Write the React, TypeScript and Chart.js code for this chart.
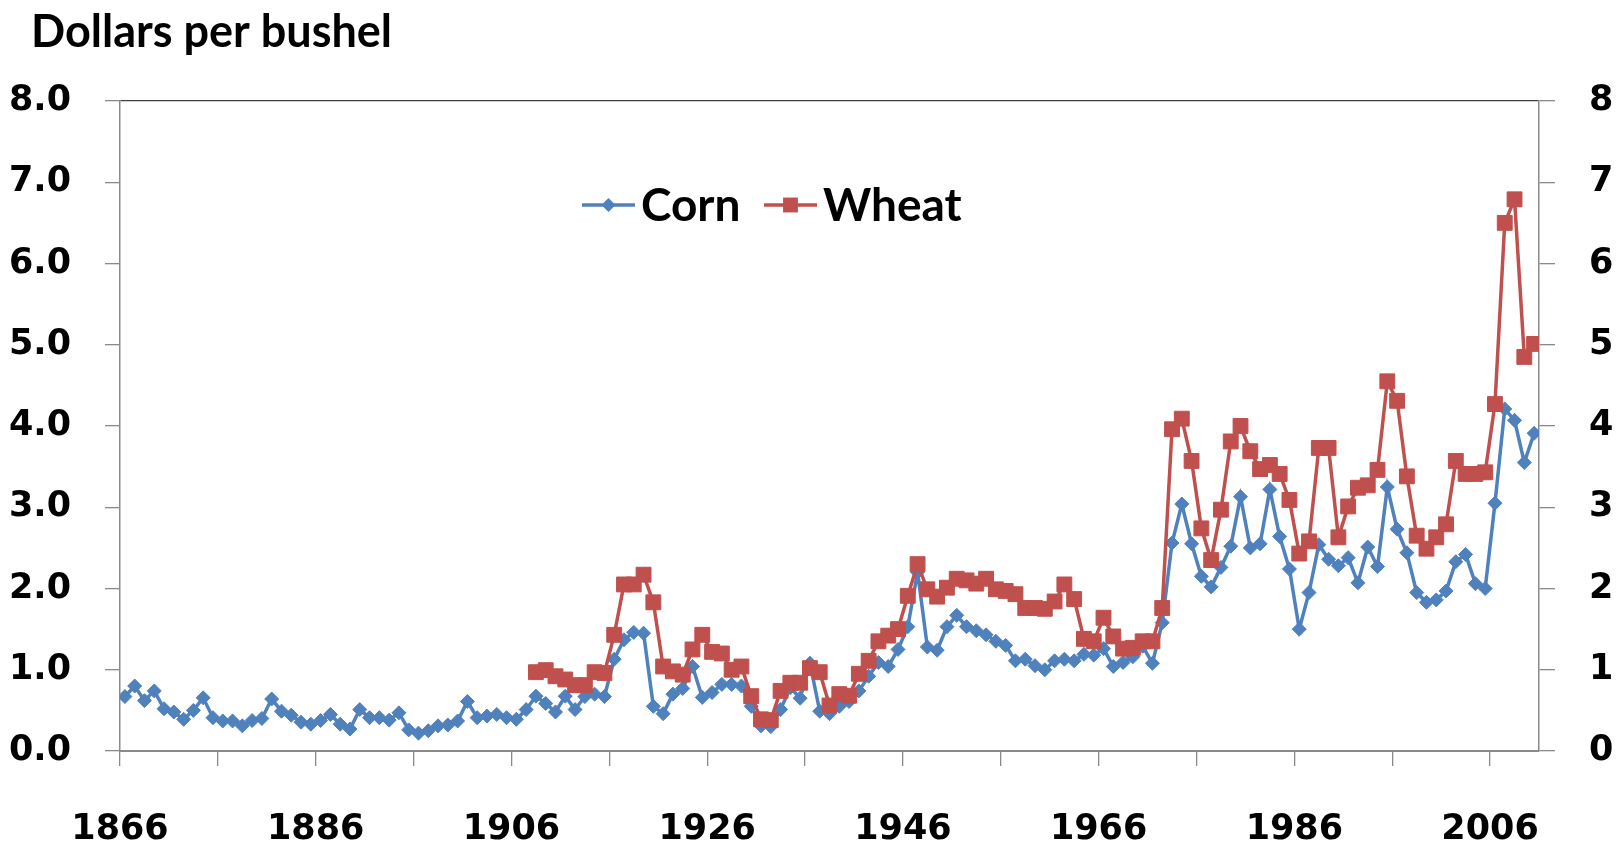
import React, { useEffect, useRef } from "react";
import { Chart, registerables } from "chart.js";

Chart.register(...registerables);

const TITLE = "Dollars per bushel";
const SERIES_NAMES = ["Corn", "Wheat"];
const CORN_START_YEAR = 1866;
const WHEAT_START_YEAR = 1908;
const X_MIN_YEAR = 1866;
const X_MAX_YEAR = 2010;
const X_TICK_YEARS = [1866, 1876, 1886, 1896, 1906, 1916, 1926, 1936, 1946, 1956, 1966, 1976, 1986, 1996, 2006];
const X_LABEL_YEARS = [1866, 1886, 1906, 1926, 1946, 1966, 1986, 2006];
const Y_TICKS = [0, 1, 2, 3, 4, 5, 6, 7, 8];

const cornPrices = [
  0.67, 0.8, 0.62, 0.74, 0.52, 0.48, 0.39, 0.5, 0.655, 0.41,
  0.37, 0.37, 0.31, 0.375, 0.4, 0.64, 0.49, 0.44, 0.355, 0.33,
  0.375, 0.45, 0.33, 0.27, 0.51, 0.41, 0.41, 0.38, 0.47, 0.26,
  0.22, 0.25, 0.31, 0.32, 0.37, 0.61, 0.41, 0.43, 0.45, 0.41,
  0.39, 0.51, 0.675, 0.585, 0.48, 0.675, 0.51, 0.67, 0.7, 0.67,
  1.13, 1.37, 1.46, 1.45, 0.55, 0.46, 0.7, 0.77, 1.04, 0.66,
  0.72, 0.82, 0.82, 0.8, 0.55, 0.31, 0.3, 0.51, 0.78, 0.65,
  1.08, 0.49, 0.46, 0.55, 0.61, 0.74, 0.92, 1.09, 1.04, 1.25,
  1.53, 2.2, 1.28, 1.24, 1.53, 1.67, 1.53, 1.48, 1.43, 1.35,
  1.3, 1.11, 1.13, 1.05, 1.0, 1.11, 1.13, 1.11, 1.19, 1.18,
  1.26, 1.04, 1.09, 1.16, 1.29, 1.08, 1.58, 2.56, 3.04, 2.55,
  2.15, 2.02, 2.26, 2.52, 3.13, 2.5, 2.55, 3.22, 2.64, 2.24,
  1.5, 1.95, 2.54, 2.36, 2.28, 2.38, 2.07, 2.51, 2.27, 3.25,
  2.73, 2.44, 1.95, 1.83, 1.86, 1.97, 2.33, 2.42, 2.06, 2.0,
  3.05, 4.21, 4.07, 3.55, 3.91,
];

const wheatPrices = [
  0.97, 0.995, 0.92, 0.88, 0.81, 0.81, 0.97, 0.96, 1.43, 2.05,
  2.05, 2.17, 1.83, 1.04, 0.98, 0.94, 1.25, 1.43, 1.22, 1.2,
  1.0, 1.04, 0.675, 0.39, 0.38, 0.74, 0.84, 0.84, 1.02, 0.97,
  0.56, 0.7, 0.68, 0.95, 1.11, 1.35, 1.42, 1.5, 1.91, 2.3,
  1.99, 1.9, 2.01, 2.12, 2.1, 2.06, 2.12, 1.99, 1.97, 1.93,
  1.76, 1.76, 1.75, 1.84, 2.05, 1.87, 1.38, 1.35, 1.64, 1.41,
  1.26, 1.27, 1.35, 1.35, 1.76, 3.96, 4.09, 3.57, 2.74, 2.35,
  2.97, 3.81, 4.0, 3.69, 3.47, 3.52, 3.41, 3.09, 2.43, 2.58,
  3.73, 3.73, 2.63, 3.01, 3.24, 3.27, 3.46, 4.55, 4.31, 3.38,
  2.65, 2.49, 2.63, 2.79, 3.57, 3.41, 3.41, 3.43, 4.27, 6.5,
  6.79, 4.85, 5.01,
];

const CORN_COLOR = "#4F81BD";
const WHEAT_COLOR = "#C0504D";
const AXIS_COLOR = "#8A8A8A";
const TOP_LINE_COLOR = "#404040";
const FONT = '"Lato", "Open Sans", sans-serif';
const TICK_FONT = '"DejaVu Sans", "Lato", sans-serif';
const CORN_RADIUS = 7;
const WHEAT_RADIUS = 10.5;
const LINE_WIDTH = 3.5;

const toPoints = (start: number, values: number[]) =>
  values.map((v, i) => ({ x: start + i, y: v }));

const overlayPlugin = {
  id: "overlay",
  afterDraw(chart: any) {
    const ctx = chart.ctx as CanvasRenderingContext2D;
    ctx.save();
    ctx.fillStyle = "#000";
    ctx.font = `bold 45px ${FONT}`;
    ctx.textBaseline = "alphabetic";
    ctx.textAlign = "left";
    ctx.fillText(TITLE, 31, 47);

    const legendY = 205;
    const items = [
      { name: SERIES_NAMES[0], color: CORN_COLOR, x0: 582, style: "rectRot", r: CORN_RADIUS },
      { name: SERIES_NAMES[1], color: WHEAT_COLOR, x0: 764, style: "rect", r: WHEAT_RADIUS },
    ];
    for (const it of items) {
      ctx.strokeStyle = it.color;
      ctx.lineWidth = LINE_WIDTH;
      ctx.beginPath();
      ctx.moveTo(it.x0, legendY);
      ctx.lineTo(it.x0 + 53, legendY);
      ctx.stroke();
      ctx.fillStyle = it.color;
      const cx = it.x0 + 26.5;
      ctx.beginPath();
      if (it.style === "rectRot") {
        ctx.moveTo(cx, legendY - it.r);
        ctx.lineTo(cx + it.r, legendY);
        ctx.lineTo(cx, legendY + it.r);
        ctx.lineTo(cx - it.r, legendY);
        ctx.closePath();
      } else {
        const h = it.r * Math.SQRT1_2;
        ctx.rect(cx - h, legendY - h, 2 * h, 2 * h);
      }
      ctx.fill();
      ctx.fillStyle = "#000";
      ctx.font = `bold 46px ${FONT}`;
      ctx.textBaseline = "alphabetic";
      ctx.fillText(it.name, it.x0 + 59, legendY + 16);
    }
    ctx.restore();
  },
};

export default function App() {
  const canvasRef = useRef<HTMLCanvasElement | null>(null);

  useEffect(() => {
    const canvas = canvasRef.current;
    if (!canvas) return;
    const chart = new Chart(canvas, {
      type: "line",
      data: {
        datasets: [
          {
            label: SERIES_NAMES[0],
            data: toPoints(CORN_START_YEAR, cornPrices),
            borderColor: CORN_COLOR,
            backgroundColor: CORN_COLOR,
            borderWidth: LINE_WIDTH,
            pointStyle: "rectRot",
            pointRadius: CORN_RADIUS,
            pointBorderWidth: 1,
            pointBackgroundColor: CORN_COLOR,
            pointBorderColor: CORN_COLOR,
            tension: 0,
            order: 1,
          },
          {
            label: SERIES_NAMES[1],
            data: toPoints(WHEAT_START_YEAR, wheatPrices),
            borderColor: WHEAT_COLOR,
            backgroundColor: WHEAT_COLOR,
            borderWidth: LINE_WIDTH,
            pointStyle: "rect",
            pointRadius: WHEAT_RADIUS,
            pointBorderWidth: 1,
            pointBackgroundColor: WHEAT_COLOR,
            pointBorderColor: WHEAT_COLOR,
            tension: 0,
            order: 0,
          },
        ],
      },
      options: {
        responsive: false,
        animation: false,
        events: [],
        layout: { padding: { top: 101, left: 0, right: 0, bottom: 0 } },
        plugins: {
          legend: { display: false },
          title: { display: false },
          tooltip: { enabled: false },
        },
        scales: {
          x: {
            type: "linear",
            min: X_MIN_YEAR - 0.5,
            max: X_MAX_YEAR + 0.5,
            afterBuildTicks: (scale: any) => {
              scale.ticks = X_TICK_YEARS.map((y) => ({ value: y - 0.5 }));
            },
            afterFit: (scale: any) => {
              scale.height = 100;
            },
            ticks: {
              autoSkip: false,
              maxRotation: 0,
              padding: 43,
              color: "#000",
              font: { family: TICK_FONT, size: 35, weight: "bold" },
              callback: (v: any) => {
                const yr = Math.round(Number(v) + 0.5);
                return X_LABEL_YEARS.includes(yr) ? String(yr) : "";
              },
            },
            grid: {
              drawOnChartArea: false,
              tickLength: 15,
              tickColor: AXIS_COLOR,
              lineWidth: 1.3,
            },
            border: { display: true, color: AXIS_COLOR, width: 2 },
          },
          y: {
            type: "linear",
            position: "left",
            min: 0,
            max: 8,
            afterBuildTicks: (scale: any) => {
              scale.ticks = Y_TICKS.map((v) => ({ value: v }));
            },
            afterFit: (scale: any) => {
              scale.width = 120;
            },
            ticks: {
              padding: 34,
              color: "#000",
              font: { family: TICK_FONT, size: 35, weight: "bold" },
              callback: (v: any) => Number(v).toFixed(1),
            },
            grid: {
              drawOnChartArea: true,
              tickLength: 15,
              tickColor: AXIS_COLOR,
              lineWidth: 1.3,
              color: (c: any) => (c.tick && c.tick.value === 8 ? TOP_LINE_COLOR : "rgba(0,0,0,0)"),
            },
            border: { display: true, color: AXIS_COLOR, width: 1.5 },
          },
          y2: {
            type: "linear",
            position: "right",
            min: 0,
            max: 8,
            afterBuildTicks: (scale: any) => {
              scale.ticks = Y_TICKS.map((v) => ({ value: v }));
            },
            afterFit: (scale: any) => {
              scale.width = 84;
            },
            ticks: {
              padding: 34,
              color: "#000",
              font: { family: TICK_FONT, size: 35, weight: "bold" },
              callback: (v: any) => String(v),
            },
            grid: {
              drawOnChartArea: false,
              tickLength: 16,
              tickColor: AXIS_COLOR,
              lineWidth: 1.3,
            },
            border: { display: true, color: AXIS_COLOR, width: 1.5 },
          },
        },
      },
      plugins: [overlayPlugin],
    } as any);
    return () => chart.destroy();
  }, []);

  return (
    <div style={{ position: "fixed", left: 0, top: 0, width: 1623, height: 851, background: "#fff" }}>
      <canvas ref={canvasRef} width={1623} height={851} style={{ display: "block" }} />
    </div>
  );
}
